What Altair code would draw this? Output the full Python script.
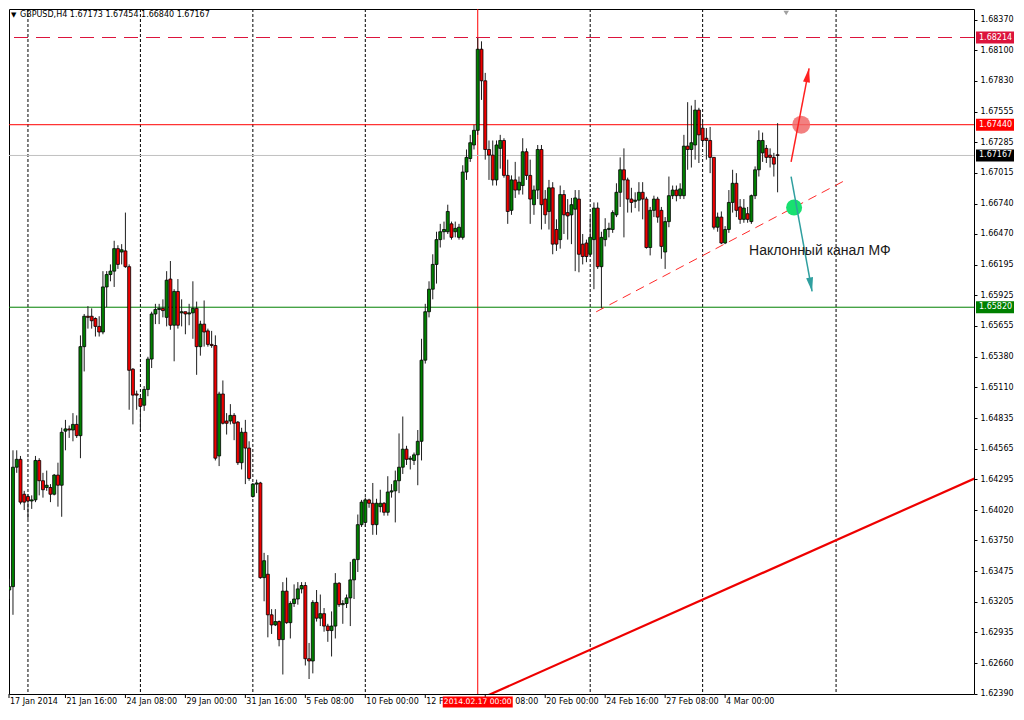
import altair as alt
import pandas as pd

# ---------------- data (GBPUSD H4) ----------------
opens = [1.6354, 1.6331, 1.6334, 1.6440, 1.6447, 1.6416, 1.6414, 1.6410, 1.6411, 1.6446,
         1.6428, 1.6422, 1.6422, 1.6416, 1.6433, 1.6424, 1.6472, 1.6474, 1.6473, 1.6478,
         1.6468, 1.6547, 1.6574, 1.6574, 1.6572, 1.6565, 1.6560, 1.6600, 1.6611, 1.6614,
         1.6634, 1.6631, 1.6632, 1.6618, 1.6527, 1.6505, 1.6501, 1.6495, 1.6509, 1.6536,
         1.6576, 1.6580, 1.6581, 1.6573, 1.6607, 1.6566, 1.6596, 1.6577, 1.6578, 1.6576,
         1.6577, 1.6581, 1.6547, 1.6567, 1.6561, 1.6549, 1.6548, 1.6450, 1.6505, 1.6481,
         1.6481, 1.6486, 1.6480, 1.6444, 1.6471, 1.6457, 1.6414, 1.6425, 1.6426, 1.6342,
         1.6345, 1.6309, 1.6300, 1.6303, 1.6287, 1.6330, 1.6302, 1.6319, 1.6323, 1.6332,
         1.6335, 1.6270, 1.6268, 1.6320, 1.6306, 1.6310, 1.6299, 1.6295, 1.6299, 1.6337,
         1.6318, 1.6319, 1.6324, 1.6340, 1.6358, 1.6389, 1.6391, 1.6411, 1.6408, 1.6389,
         1.6405, 1.6408, 1.6400, 1.6418, 1.6419, 1.6428, 1.6440, 1.6456, 1.6447, 1.6446,
         1.6451, 1.6463, 1.6535, 1.6578, 1.6598, 1.6620, 1.6642, 1.6649, 1.6649, 1.6656,
         1.6649, 1.6644, 1.6644, 1.6702, 1.6714, 1.6726, 1.6739, 1.6811, 1.6783, 1.6722,
         1.6717, 1.6695, 1.6723, 1.6730, 1.6699, 1.6668, 1.6695, 1.6686, 1.6690, 1.6720,
         1.6699, 1.6673, 1.6686, 1.6722, 1.6678, 1.6667, 1.6688, 1.6651, 1.6642, 1.6682,
         1.6666, 1.6664, 1.6669, 1.6678, 1.6638, 1.6639, 1.6629, 1.6642, 1.6670, 1.6618,
         1.6642, 1.6651, 1.6651, 1.6664, 1.6684, 1.6704, 1.6695, 1.6678, 1.6676, 1.6677,
         1.6684, 1.6678, 1.6635, 1.6668, 1.6678, 1.6668, 1.6631, 1.6658, 1.6681, 1.6686,
         1.6681, 1.6681, 1.6725, 1.6722, 1.6726, 1.6757, 1.6741, 1.6732, 1.6730, 1.6715,
         1.6653, 1.6662, 1.6639, 1.6651, 1.6675, 1.6692, 1.6671, 1.6660, 1.6665, 1.6658,
         1.6681, 1.6704, 1.6719, 1.6723, 1.6717, 1.6715, 1.67173]

highs = [1.6358, 1.6341, 1.6455, 1.6455, 1.6450, 1.6419, 1.6416, 1.6415, 1.6450, 1.6448,
         1.6435, 1.6437, 1.6425, 1.6434, 1.6444, 1.6475, 1.6482, 1.6477, 1.6488, 1.6486,
         1.6557, 1.6576, 1.6583, 1.6581, 1.6573, 1.6574, 1.6614, 1.6614, 1.6620, 1.6641,
         1.6637, 1.6638, 1.6666, 1.6620, 1.6528, 1.6508, 1.6504, 1.6512, 1.6538, 1.6578,
         1.6585, 1.6585, 1.6589, 1.6614, 1.6623, 1.6598, 1.6607, 1.6589, 1.6578, 1.6585,
         1.6605, 1.6587, 1.6570, 1.6588, 1.6563, 1.6561, 1.6557, 1.6507, 1.6517, 1.6488,
         1.6496, 1.6488, 1.6481, 1.6475, 1.6482, 1.6463, 1.6426, 1.6429, 1.6427, 1.6364,
         1.6362, 1.6314, 1.6314, 1.6304, 1.6338, 1.6342, 1.6321, 1.6336, 1.6338, 1.6338,
         1.6338, 1.6284, 1.6322, 1.6331, 1.6327, 1.6315, 1.6301, 1.6312, 1.6346, 1.6338,
         1.6322, 1.6327, 1.6356, 1.6359, 1.6398, 1.6411, 1.6413, 1.6412, 1.6426, 1.6412,
         1.6420, 1.6409, 1.6432, 1.6425, 1.6437, 1.6470, 1.6485, 1.6459, 1.6450, 1.6453,
         1.6473, 1.6554, 1.6585, 1.6605, 1.6629, 1.6649, 1.6656, 1.6658, 1.6673, 1.6658,
         1.6658, 1.6656, 1.6708, 1.6722, 1.6735, 1.6744, 1.6821, 1.6818, 1.6790, 1.6730,
         1.6730, 1.6730, 1.6735, 1.6732, 1.6713, 1.6699, 1.6711, 1.6698, 1.6732, 1.6723,
         1.6713, 1.6690, 1.6726, 1.6726, 1.6686, 1.6695, 1.6693, 1.6660, 1.6690, 1.6686,
         1.6678, 1.6679, 1.6686, 1.6686, 1.6647, 1.6642, 1.6662, 1.6675, 1.6675, 1.6649,
         1.6661, 1.6657, 1.6668, 1.6692, 1.6715, 1.6723, 1.6697, 1.6688, 1.6684, 1.6693,
         1.6693, 1.6680, 1.6671, 1.6681, 1.6680, 1.6671, 1.6662, 1.6698, 1.6690, 1.6690,
         1.6692, 1.6735, 1.6764, 1.6761, 1.6766, 1.6759, 1.6748, 1.6741, 1.6742, 1.6715,
         1.6666, 1.6667, 1.6654, 1.6686, 1.6704, 1.6701, 1.6678, 1.6678, 1.6671, 1.6682,
         1.6707, 1.6739, 1.6737, 1.6726, 1.6723, 1.6719, 1.67454]

lows = [1.6328, 1.6323, 1.6309, 1.6435, 1.6407, 1.6402, 1.6394, 1.6403, 1.6409, 1.6415,
        1.6413, 1.6419, 1.6409, 1.6415, 1.6405, 1.6396, 1.6455, 1.6466, 1.6463, 1.6466,
        1.6448, 1.6525, 1.6563, 1.6563, 1.6556, 1.6556, 1.6558, 1.6582, 1.6605, 1.6600,
        1.6616, 1.6620, 1.6617, 1.6491, 1.6478, 1.6491, 1.6472, 1.6490, 1.6503, 1.6528,
        1.6567, 1.6567, 1.6573, 1.6565, 1.6562, 1.6534, 1.6563, 1.6565, 1.6558, 1.6566,
        1.6554, 1.6522, 1.6539, 1.6547, 1.6547, 1.6546, 1.6446, 1.6441, 1.6478, 1.6469,
        1.6478, 1.6464, 1.6442, 1.6438, 1.6425, 1.6428, 1.6413, 1.6417, 1.6341, 1.6321,
        1.6289, 1.6292, 1.6299, 1.6281, 1.6256, 1.6301, 1.6288, 1.6316, 1.6318, 1.6328,
        1.6264, 1.6252, 1.6257, 1.6303, 1.6299, 1.6294, 1.6285, 1.6272, 1.6288, 1.6316,
        1.6301, 1.6315, 1.6299, 1.6323, 1.6347, 1.6387, 1.6387, 1.6404, 1.6380, 1.6380,
        1.6400, 1.6397, 1.6397, 1.6413, 1.6391, 1.6417, 1.6434, 1.6442, 1.6438, 1.6442,
        1.6424, 1.6446, 1.6532, 1.6573, 1.6589, 1.6603, 1.6635, 1.6642, 1.6647, 1.6642,
        1.6644, 1.6642, 1.6642, 1.6695, 1.6711, 1.6722, 1.6735, 1.6766, 1.6713, 1.6695,
        1.6690, 1.6690, 1.6705, 1.6697, 1.6656, 1.6664, 1.6679, 1.6682, 1.6682, 1.6695,
        1.6656, 1.6664, 1.6678, 1.6651, 1.6656, 1.6651, 1.6629, 1.6632, 1.6634, 1.6647,
        1.6642, 1.6638, 1.6614, 1.6613, 1.6620, 1.6622, 1.6627, 1.6598, 1.6616, 1.6581,
        1.6636, 1.6644, 1.6648, 1.6662, 1.6671, 1.6644, 1.6666, 1.6666, 1.6670, 1.6667,
        1.6660, 1.6634, 1.6628, 1.6662, 1.6657, 1.6625, 1.6616, 1.6653, 1.6678, 1.6676,
        1.6678, 1.6678, 1.6704, 1.6706, 1.6713, 1.6710, 1.6726, 1.6713, 1.6701, 1.6651,
        1.6649, 1.6638, 1.6638, 1.6648, 1.6666, 1.6662, 1.6656, 1.6657, 1.6657, 1.6656,
        1.6678, 1.6698, 1.6711, 1.6710, 1.6706, 1.6698, 1.66840]

closes = [1.6331, 1.6334, 1.6440, 1.6447, 1.6409, 1.6409, 1.6410, 1.6411, 1.6446, 1.6428,
          1.6420, 1.6424, 1.6416, 1.6433, 1.6424, 1.6471, 1.6474, 1.6473, 1.6478, 1.6468,
          1.6547, 1.6574, 1.6573, 1.6570, 1.6565, 1.6560, 1.6600, 1.6611, 1.6614, 1.6634,
          1.6620, 1.6633, 1.6618, 1.6526, 1.6504, 1.6504, 1.6494, 1.6509, 1.6536, 1.6576,
          1.6580, 1.6581, 1.6579, 1.6606, 1.6566, 1.6596, 1.6566, 1.6578, 1.6576, 1.6577,
          1.6581, 1.6547, 1.6567, 1.6560, 1.6549, 1.6548, 1.6448, 1.6505, 1.6479, 1.6479,
          1.6486, 1.6479, 1.6444, 1.6471, 1.6457, 1.6430, 1.6425, 1.6426, 1.6342, 1.6357,
          1.6309, 1.6300, 1.6303, 1.6287, 1.6330, 1.6302, 1.6319, 1.6323, 1.6332, 1.6335,
          1.6270, 1.6268, 1.6320, 1.6306, 1.6310, 1.6299, 1.6295, 1.6299, 1.6337, 1.6318,
          1.6319, 1.6324, 1.6340, 1.6358, 1.6389, 1.6409, 1.6411, 1.6408, 1.6389, 1.6408,
          1.6408, 1.6400, 1.6418, 1.6419, 1.6428, 1.6440, 1.6456, 1.6447, 1.6448, 1.6451,
          1.6463, 1.6535, 1.6578, 1.6598, 1.6620, 1.6642, 1.6649, 1.6651, 1.6667, 1.6644,
          1.6652, 1.6653, 1.6702, 1.6715, 1.6728, 1.6739, 1.6811, 1.6783, 1.6722, 1.6717,
          1.6695, 1.6726, 1.6730, 1.6699, 1.6667, 1.6695, 1.6686, 1.6693, 1.6720, 1.6699,
          1.6678, 1.6686, 1.6722, 1.6673, 1.6664, 1.6688, 1.6638, 1.6638, 1.6682, 1.6664,
          1.6663, 1.6673, 1.6679, 1.6629, 1.6627, 1.6627, 1.6644, 1.6670, 1.6618, 1.6644,
          1.6651, 1.6652, 1.6666, 1.6684, 1.6704, 1.6695, 1.6678, 1.6675, 1.6677, 1.6684,
          1.6678, 1.6635, 1.6668, 1.6678, 1.6662, 1.6636, 1.6658, 1.6681, 1.6686, 1.6681,
          1.6687, 1.6725, 1.6722, 1.6728, 1.6757, 1.6735, 1.6730, 1.6730, 1.6715, 1.6653,
          1.6662, 1.6639, 1.6651, 1.6675, 1.6692, 1.6668, 1.6660, 1.6670, 1.6660, 1.6681,
          1.6704, 1.6730, 1.6730, 1.6715, 1.6715, 1.6709, 1.67167]

assert len(opens) == len(highs) == len(lows) == len(closes) == 207

y_ticks = [1.68370, 1.68100, 1.67830, 1.67555, 1.67285, 1.67015, 1.66740, 1.66470,
           1.66195, 1.65925, 1.65655, 1.65380, 1.65110, 1.64835, 1.64565, 1.64295,
           1.64020, 1.63750, 1.63475, 1.63205, 1.62935, 1.62660, 1.62390]

# bottom time labels (the ones partly hidden under the red date box are shown as visible)
date_labels = ["17 Jan 2014", "21 Jan 16:00", "24 Jan 08:00", "29 Jan 00:00",
               "31 Jan 16:00", "5 Feb 08:00", "10 Feb 00:00", "12 F",
               "20 Feb 00:00", "24 Feb 16:00", "27 Feb 08:00", "4 Mar 00:00"]
date_bars = [0, 16, 32, 48, 64, 80, 96, 112, 144, 160, 176, 192]
hidden_label = "08:00"          # tail of "17 Feb 08:00" visible right of the box
hidden_bar = 128
week_bars = [6, 36, 66, 96, 156, 186, 221.6]
marker_bar = 126
marker_label = "2014.02.17 00:00"
shift_bar = 208.3

level_prices = [1.68214, 1.67440, 1.67167, 1.65820]
level_line_colors = ["#dc143c", "#ff0000", "#c0c0c0", "#008000"]
level_box_colors = ["#dc143c", "#ff0000", "#000000", "#008000"]

channel_bars = [157.6, 224.3]
channel_prices = [1.65779, 1.66951]
trend_bars = [120.0, 260.3]
trend_prices = [1.62246, 1.64326]

up_arrow_bars = [209.6, 214.4]
up_arrow_prices = [1.6711, 1.6794]
down_arrow_bars = [209.6, 215.2]
down_arrow_prices = [1.6698, 1.6596]

red_dot = (212.3, 1.6744)
green_dot = (210.4, 1.66705)
note = (198.4, 1.66317, "Наклонный канал МФ")
header = "GBPUSD,H4  1.67173 1.67454 1.66840 1.67167"

# ---------------- layout ----------------
W, H = 965, 685
X_DOM = [0.94, 258.4]
Y_DOM = [1.62387, 1.68467]
xs = alt.Scale(domain=X_DOM, nice=False, zero=False, padding=0)
ys = alt.Scale(domain=Y_DOM, nice=False, zero=False, padding=0)
FONT = "DejaVu Sans"
LAB_Y = H + 8

yaxis = alt.Axis(orient="right", values=y_ticks, format=".5f", title=None,
                 grid=False, domain=False, tickSize=3, tickColor="black",
                 labelFont=FONT, labelFontSize=8, labelColor="black",
                 labelPadding=3, labelOverlap=False)


def X(f):
    return alt.X(f, type="quantitative", scale=xs, axis=None)


def Y(f):
    return alt.Y(f, type="quantitative", scale=ys, axis=yaxis)


cd = pd.DataFrame({"i": list(range(len(closes))), "o": opens, "h": highs,
                   "l": lows, "c": closes})
cd["dir"] = ["up" if c >= o else "down" for o, c in zip(opens, closes)]

grid = alt.Chart(pd.DataFrame({"i": week_bars})).mark_rule(
    color="black", strokeDash=[3, 2], strokeWidth=1, clip=True).encode(x=X("i"))

vmark = alt.Chart(pd.DataFrame({"i": [marker_bar]})).mark_rule(
    color="#ff0000", strokeWidth=1).encode(x=X("i"))

lvl_dash = alt.Chart(pd.DataFrame({"p": level_prices[:1]})).mark_rule(
    color=level_line_colors[0], strokeDash=[14, 8], strokeWidth=1).encode(y=Y("p"))

lvl_solid = alt.Chart(pd.DataFrame({"p": level_prices[1:],
                                    "col": level_line_colors[1:]})).mark_rule(
    strokeWidth=1).encode(y=Y("p"), color=alt.Color("col:N", scale=None))

channel = alt.Chart(pd.DataFrame({"i": channel_bars, "p": channel_prices})).mark_line(
    color="#ff2a2a", strokeDash=[9, 6], strokeWidth=1, clip=True).encode(x=X("i"), y=Y("p"))

trend = alt.Chart(pd.DataFrame({"i": trend_bars, "p": trend_prices})).mark_line(
    color="#ee0000", strokeWidth=2.2, clip=True).encode(x=X("i"), y=Y("p"))

wicks = alt.Chart(cd).mark_rule(color="#1e1e1e", strokeWidth=1, clip=True).encode(
    x=X("i"), y=Y("l"), y2="h:Q")

bodies = alt.Chart(cd).mark_bar(width=3, stroke="#000000", strokeWidth=0.8,
                                clip=True).encode(
    x=X("i"), y=Y("o"), y2="c:Q",
    color=alt.Color("dir:N", scale=alt.Scale(domain=["up", "down"],
                                             range=["#008000", "#ee0000"]),
                    legend=None))

red_circle = alt.Chart(pd.DataFrame({"i": [red_dot[0]], "p": [red_dot[1]]})).mark_circle(
    size=324, color="#f06a6a", opacity=0.85).encode(x=X("i"), y=Y("p"))
green_circle = alt.Chart(pd.DataFrame({"i": [green_dot[0]], "p": [green_dot[1]]})).mark_circle(
    size=256, color="#18e070", opacity=1).encode(x=X("i"), y=Y("p"))

HEAD = "M0,0L0.4,1.6L-0.4,1.6Z"
up_line = alt.Chart(pd.DataFrame({"i": up_arrow_bars, "p": up_arrow_prices})).mark_line(
    color="#ff2020", strokeWidth=1.5).encode(x=X("i"), y=Y("p"))
up_head = alt.Chart(pd.DataFrame({"i": up_arrow_bars[1:], "p": up_arrow_prices[1:]})).mark_point(
    shape=HEAD, size=306, filled=True, color="#ff2020", opacity=1, angle=10.8).encode(
    x=X("i"), y=Y("p"))
dn_line = alt.Chart(pd.DataFrame({"i": down_arrow_bars, "p": down_arrow_prices})).mark_line(
    color="#2f9f9f", strokeWidth=1.5).encode(x=X("i"), y=Y("p"))
dn_head = alt.Chart(pd.DataFrame({"i": down_arrow_bars[1:], "p": down_arrow_prices[1:]})).mark_point(
    shape=HEAD, size=306, filled=True, color="#2f9f9f", opacity=1, angle=169.7).encode(
    x=X("i"), y=Y("p"))

note_txt = alt.Chart(pd.DataFrame({"i": [note[0]], "p": [note[1]], "t": [note[2]]})).mark_text(
    align="left", baseline="middle", font="Liberation Sans", fontSize=14,
    color="#1a1a1a").encode(x=X("i"), y=Y("p"), text="t:N")

head_tri = alt.Chart(pd.DataFrame({"t": ["▼"]})).mark_text(
    align="left", baseline="middle", font=FONT, fontSize=7, color="black").encode(
    x=alt.value(2), y=alt.value(6), text="t:N")
head_txt = alt.Chart(pd.DataFrame({"t": [header]})).mark_text(
    align="left", baseline="middle", font=FONT, fontSize=8, color="black").encode(
    x=alt.value(11), y=alt.value(6), text="t:N")

shift_mark = alt.Chart(pd.DataFrame({"i": [shift_bar]})).mark_point(
    shape="triangle-down", size=30, filled=True, color="#a0a0a0", opacity=1).encode(
    x=X("i"), y=alt.value(4))

BOX_R = "M-1,-0.316L1,-0.316L1,0.316L-1,0.316Z"
box_df = pd.DataFrame({"p": level_prices, "col": level_box_colors,
                       "t": [f"{p:.5f}" for p in level_prices]})
boxes = alt.Chart(box_df).mark_point(shape=BOX_R, size=1444, filled=True, opacity=1,
                                     strokeWidth=0).encode(
    x=alt.value(W + 21), y=Y("p"), color=alt.Color("col:N", scale=None))
box_txt = alt.Chart(box_df).mark_text(align="left", baseline="middle", font=FONT,
                                      fontSize=8, color="white").encode(
    x=alt.value(W + 5), y=Y("p"), text="t:N")

date_df = pd.DataFrame({"i": [max(b, X_DOM[0]) for b in date_bars], "t": date_labels})
date_txt = alt.Chart(date_df).mark_text(align="left", baseline="middle", font=FONT,
                                        fontSize=8, dx=1, color="black").encode(
    x=X("i"), y=alt.value(LAB_Y), text="t:N")
tick_df = pd.DataFrame({"i": [max(b, X_DOM[0]) for b in date_bars] + [hidden_bar]})
date_ticks = alt.Chart(tick_df).mark_rule(color="black", strokeWidth=1).encode(
    x=X("i"), y=alt.value(H), y2=alt.value(H + 4))
hid_txt = alt.Chart(pd.DataFrame({"i": [hidden_bar], "t": [hidden_label]})).mark_text(
    align="left", baseline="middle", font=FONT, fontSize=8, dx=30, color="black").encode(
    x=X("i"), y=alt.value(LAB_Y), text="t:N")

# red date box: 70 x 11 px
DBOX = "M-1,-0.157L1,-0.157L1,0.157L-1,0.157Z"
mk_df = pd.DataFrame({"i": [marker_bar], "t": [marker_label]})
mk_box = alt.Chart(mk_df).mark_point(shape=DBOX, size=4900, filled=True, color="#ff0000",
                                     opacity=1, strokeWidth=0).encode(
    x=X("i"), y=alt.value(LAB_Y))
mk_txt = alt.Chart(mk_df).mark_text(align="center", baseline="middle", font=FONT,
                                    fontSize=7.6, color="white").encode(
    x=X("i"), y=alt.value(LAB_Y), text="t:N")

chart = alt.layer(
    grid, vmark, lvl_dash, lvl_solid, trend, wicks, bodies, channel,
    red_circle, green_circle, up_line, up_head, dn_line, dn_head, note_txt,
    head_tri, head_txt, shift_mark, boxes, box_txt, date_ticks, date_txt, hid_txt,
    mk_box, mk_txt
).properties(
    width=W, height=H, background="white",
    padding={"left": 0, "top": 0, "right": 0, "bottom": 0}
).configure_view(stroke="black", strokeWidth=1)

chart.save("out.html", embed_options={"renderer": "svg", "actions": False})
